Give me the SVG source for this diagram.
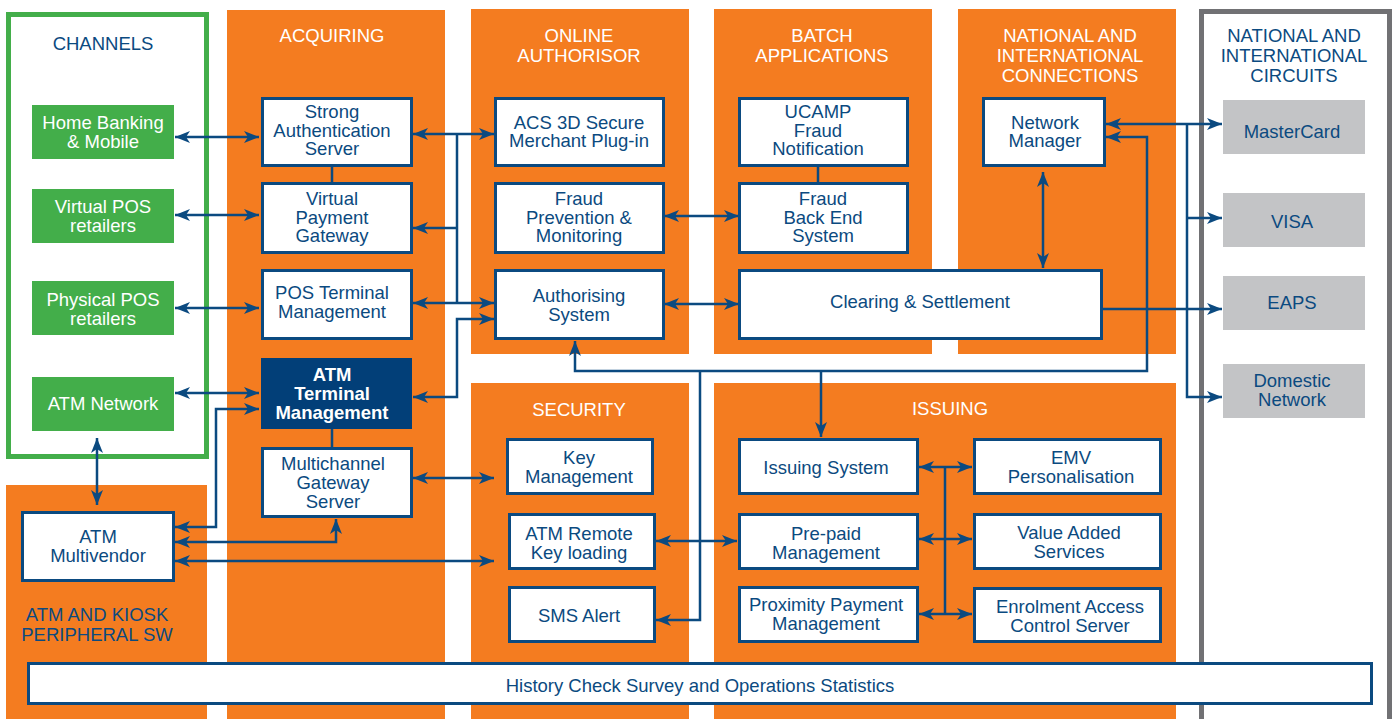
<svg xmlns="http://www.w3.org/2000/svg" width="1395" height="719" viewBox="0 0 1395 719">
<defs>
<marker id="ah" markerUnits="userSpaceOnUse" markerWidth="15" markerHeight="12" refX="15" refY="6" orient="auto-start-reverse" viewBox="0 0 15 12">
<path d="M0,0 L15,6 L0,12 L4,6 z" fill="#0b4a80"/>
</marker>
<style>
text{font-family:"Liberation Sans",Arial,Helvetica,sans-serif;font-size:18.5px;text-anchor:middle}
.sec{fill:#f47c20}
.st{fill:#ffffff}
.stn{fill:#0b4a80}
.nb{fill:#ffffff;stroke:#0b4a80;stroke-width:3}
.nt{fill:#0b4a80}
.gb{fill:#43ae4a}
.gt{fill:#ffffff}
.cb{fill:#c3c4c6}
.dk{fill:#023f78}
.dt{fill:#ffffff;font-weight:bold}
.c{fill:none;stroke:#0b4a80;stroke-width:2.5}
.b{marker-start:url(#ah);marker-end:url(#ah)}
.e{marker-end:url(#ah)}
</style>
</defs>
<rect width="1395" height="719" fill="#ffffff"/>

<g id="sections">
<g id="sec-channels">
<rect x="8.5" y="14.5" width="198" height="442" fill="#ffffff" stroke="#43ae4a" stroke-width="5"/>
<text class="stn" x="103" y="50">CHANNELS</text>
</g>
<g id="sec-acquiring">
<rect class="sec" x="227" y="10" width="218" height="709"/>
<text class="st" x="332" y="42">ACQUIRING</text>
</g>
<g id="sec-online">
<rect class="sec" x="471" y="9" width="218" height="345"/>
<text class="st" x="579" y="42">ONLINE</text>
<text class="st" x="579" y="62">AUTHORISOR</text>
</g>
<g id="sec-batch">
<rect class="sec" x="714" y="9" width="218" height="345"/>
<text class="st" x="822" y="42">BATCH</text>
<text class="st" x="822" y="62">APPLICATIONS</text>
</g>
<g id="sec-natconn">
<rect class="sec" x="958" y="9" width="218" height="345"/>
<text class="st" x="1070" y="42">NATIONAL AND</text>
<text class="st" x="1070" y="62">INTERNATIONAL</text>
<text class="st" x="1070" y="82">CONNECTIONS</text>
</g>
<g id="sec-security">
<rect class="sec" x="471" y="383" width="218" height="336"/>
<text class="st" x="579" y="416">SECURITY</text>
</g>
<g id="sec-issuing">
<rect class="sec" x="714" y="383" width="462" height="336"/>
<text class="st" x="950" y="415">ISSUING</text>
</g>
<g id="sec-atmkiosk">
<rect class="sec" x="6" y="485" width="201" height="234"/>
<text class="stn" x="97" y="621">ATM AND KIOSK</text>
<text class="stn" x="97" y="641">PERIPHERAL SW</text>
</g>
<g id="sec-circuits">
<rect x="1201.5" y="11.5" width="188" height="730" fill="#ffffff" stroke="#717174" stroke-width="5"/>
<text class="stn" x="1294" y="42">NATIONAL AND</text>
<text class="stn" x="1294" y="62">INTERNATIONAL</text>
<text class="stn" x="1294" y="82">CIRCUITS</text>
</g>
</g>

<g id="connectors">
<path class="c b" d="M175,137 H259"/>
<path class="c b" d="M175,215 H259"/>
<path class="c b" d="M175,308 H259"/>
<path class="c b" d="M175,393 H259"/>
<path class="c b" d="M97,438 V505"/>
<path class="c b" d="M175,527 H216 V409 H259"/>
<path class="c b" d="M175,542 H336 V519"/>
<path class="c b" d="M175,561 H494"/>
<path class="c b" d="M413,478 H494"/>
<path class="c b" d="M413,134 H494"/>
<path class="c" d="M457,134 V303"/>
<path class="c e" d="M457,228 H413"/>
<path class="c b" d="M413,303 H494"/>
<path class="c b" d="M413,397 H457 V319 H494"/>
<path class="c" d="M332,167 V183 M332,429 V448 M818,167 V183"/>
<path class="c b" d="M664,216 H739"/>
<path class="c b" d="M664,304 H739"/>
<path class="c b" d="M1043,172 V268"/>
<path class="c b" d="M1106,124 H1222"/>
<path class="c e" d="M1187,124 V397 H1222"/>
<path class="c e" d="M1187,218 H1222"/>
<path class="c e" d="M1103,309 H1222"/>
<path class="c b" d="M575,341 V371 H1147 V137 H1106"/>
<path class="c e" d="M700,371 V620 H656"/>
<path class="c e" d="M821,371 V437"/>
<path class="c b" d="M656,541 H737"/>
<path class="c" d="M945,467 V614"/>
<path class="c b" d="M919,467 H972"/>
<path class="c b" d="M919,539 H972"/>
<path class="c b" d="M919,614 H972"/>
</g>

<g id="n-homebanking"><rect class="gb" x="32" y="105" width="142" height="54"/><text class="gt" x="103" y="129">Home Banking</text><text class="gt" x="103" y="147.5">&amp; Mobile</text></g>
<g id="n-virtualpos"><rect class="gb" x="32" y="189" width="142" height="54"/><text class="gt" x="103" y="213">Virtual POS</text><text class="gt" x="103" y="231.5">retailers</text></g>
<g id="n-physicalpos"><rect class="gb" x="32" y="281" width="142" height="54"/><text class="gt" x="103" y="306">Physical POS</text><text class="gt" x="103" y="325">retailers</text></g>
<g id="n-atmnetwork"><rect class="gb" x="32" y="377" width="142" height="54"/><text class="gt" x="103" y="409.5">ATM Network</text></g>

<g id="n-strongauth"><rect class="nb" x="262.5" y="98.5" width="149" height="67"/><text class="nt" x="332" y="118">Strong</text><text class="nt" x="332" y="136.5">Authentication</text><text class="nt" x="332" y="155">Server</text></g>
<g id="n-vpg"><rect class="nb" x="262.5" y="183.5" width="149" height="69"/><text class="nt" x="332" y="205">Virtual</text><text class="nt" x="332" y="223.5">Payment</text><text class="nt" x="332" y="242">Gateway</text></g>
<g id="n-posterm"><rect class="nb" x="262.5" y="270.5" width="149" height="68"/><text class="nt" x="332" y="299">POS Terminal</text><text class="nt" x="332" y="317.5">Management</text></g>
<g id="n-atmterm"><rect class="dk" x="261" y="358" width="151" height="71"/><text class="dt" x="332" y="381">ATM</text><text class="dt" x="332" y="400">Terminal</text><text class="dt" x="332" y="419">Management</text></g>
<g id="n-multichannel"><rect class="nb" x="262.5" y="448.5" width="149" height="68"/><text class="nt" x="333" y="470">Multichannel</text><text class="nt" x="333" y="489">Gateway</text><text class="nt" x="333" y="508">Server</text></g>
<g id="n-atmmultivendor"><rect class="nb" x="22.5" y="512.5" width="151" height="68"/><text class="nt" x="98" y="543">ATM</text><text class="nt" x="98" y="561.5">Multivendor</text></g>

<g id="n-acs"><rect class="nb" x="495.5" y="98.5" width="168" height="67"/><text class="nt" x="579" y="128.5">ACS 3D Secure</text><text class="nt" x="579" y="147">Merchant Plug-in</text></g>
<g id="n-fraudprev"><rect class="nb" x="495.5" y="183.5" width="168" height="69"/><text class="nt" x="579" y="205">Fraud</text><text class="nt" x="579" y="223.5">Prevention &amp;</text><text class="nt" x="579" y="242">Monitoring</text></g>
<g id="n-authorising"><rect class="nb" x="495.5" y="270.5" width="168" height="68"/><text class="nt" x="579" y="302">Authorising</text><text class="nt" x="579" y="320.5">System</text></g>

<g id="n-ucamp"><rect class="nb" x="739.5" y="98.5" width="168" height="67"/><text class="nt" x="818" y="118">UCAMP</text><text class="nt" x="818" y="136.5">Fraud</text><text class="nt" x="818" y="155">Notification</text></g>
<g id="n-fraudbe"><rect class="nb" x="739.5" y="183.5" width="168" height="69"/><text class="nt" x="823" y="205">Fraud</text><text class="nt" x="823" y="223.5">Back End</text><text class="nt" x="823" y="242">System</text></g>
<g id="n-clearing"><rect class="nb" x="739.5" y="270.5" width="362" height="68"/><text class="nt" x="920" y="308">Clearing &amp; Settlement</text></g>
<g id="n-netmgr"><rect class="nb" x="983.5" y="98.5" width="121" height="67"/><text class="nt" x="1045" y="128.5">Network</text><text class="nt" x="1045" y="147">Manager</text></g>

<g id="n-mastercard"><rect class="cb" x="1223" y="100" width="142" height="54"/><text class="nt" x="1292" y="138">MasterCard</text></g>
<g id="n-visa"><rect class="cb" x="1223" y="193" width="142" height="54"/><text class="nt" x="1292" y="228">VISA</text></g>
<g id="n-eaps"><rect class="cb" x="1223" y="276" width="142" height="54"/><text class="nt" x="1292" y="309">EAPS</text></g>
<g id="n-domestic"><rect class="cb" x="1223" y="364" width="142" height="54"/><text class="nt" x="1292" y="387">Domestic</text><text class="nt" x="1292" y="406">Network</text></g>

<g id="n-keymgmt"><rect class="nb" x="507.5" y="439.5" width="145" height="54"/><text class="nt" x="579" y="464">Key</text><text class="nt" x="579" y="482.5">Management</text></g>
<g id="n-atmremote"><rect class="nb" x="509.5" y="514.5" width="145" height="54"/><text class="nt" x="579" y="540">ATM Remote</text><text class="nt" x="579" y="558.5">Key loading</text></g>
<g id="n-sms"><rect class="nb" x="509.5" y="587.5" width="145" height="54"/><text class="nt" x="579" y="622">SMS Alert</text></g>

<g id="n-issuingsys"><rect class="nb" x="739.5" y="439.5" width="178" height="54"/><text class="nt" x="826" y="474">Issuing System</text></g>
<g id="n-prepaid"><rect class="nb" x="739.5" y="514.5" width="178" height="54"/><text class="nt" x="826" y="540">Pre-paid</text><text class="nt" x="826" y="558.5">Management</text></g>
<g id="n-proximity"><rect class="nb" x="739.5" y="587.5" width="178" height="54"/><text class="nt" x="826" y="611">Proximity Payment</text><text class="nt" x="826" y="629.5">Management</text></g>
<g id="n-emv"><rect class="nb" x="974.5" y="439.5" width="186" height="54"/><text class="nt" x="1071" y="464">EMV</text><text class="nt" x="1071" y="482.5">Personalisation</text></g>
<g id="n-vas"><rect class="nb" x="974.5" y="514.5" width="186" height="54"/><text class="nt" x="1069" y="539">Value Added</text><text class="nt" x="1069" y="557.5">Services</text></g>
<g id="n-enrolment"><rect class="nb" x="974.5" y="588.5" width="186" height="53"/><text class="nt" x="1070" y="613">Enrolment Access</text><text class="nt" x="1070" y="631.5">Control Server</text></g>

<g id="n-history"><rect class="nb" x="28.5" y="663.5" width="1343" height="40"/><text class="nt" x="700" y="692">History Check Survey and Operations Statistics</text></g>
</svg>
